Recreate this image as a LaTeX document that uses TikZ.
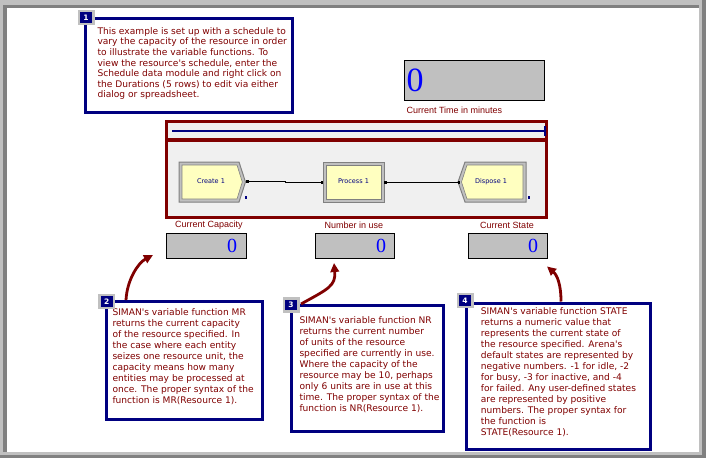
\documentclass[tikz,border=0pt]{standalone}
\usepackage{fontspec}
\usetikzlibrary{arrows.meta}
\newfontfamily\notefont{DejaVu Sans}
\newfontfamily\labfont{Liberation Sans}
\newfontfamily\numfont{Liberation Serif}
\definecolor{darkred}{HTML}{800000}
\definecolor{navy}{HTML}{000080}
\definecolor{silver}{HTML}{C0C0C0}
\definecolor{grayd}{HTML}{808080}
\definecolor{panel}{HTML}{F0F0F0}
\definecolor{modfill}{HTML}{FFFFC0}
\definecolor{numblue}{HTML}{0000FF}
\tikzset{
  notebox/.style={draw=navy, fill=white, line width=3pt, inner sep=0pt, anchor=north west},
  notetext/.style={anchor=north west, inner sep=0pt, align=left, text=darkred,
    font=\notefont\fontsize{9.1}{11}\selectfont},
  badge/.style={fill=navy, draw=silver, line width=2.5pt, text=white, inner sep=0pt,
    minimum width=14.5pt, minimum height=13pt, font=\notefont\bfseries\fontsize{7.5}{8}\selectfont},
  notearrow/.style={draw=darkred, line width=2.8pt, -{Triangle[length=9pt,width=8.5pt]}},
  dispbox/.style={draw=black, fill=silver, line width=1pt, inner sep=0pt, anchor=north west},
  smallnum/.style={anchor=base east, inner sep=0pt, text=numblue, font=\numfont\fontsize{20}{20}\selectfont},
  lab/.style={inner sep=0pt, text=darkred, font=\labfont\fontsize{9}{11}\selectfont},
  modouter/.style={fill=silver, draw=grayd, line width=1pt},
  modinner/.style={fill=modfill, draw=grayd, line width=0.6pt},
  modtext/.style={inner sep=0pt, text=navy, font=\notefont\fontsize{6.5}{7}\selectfont},
  port/.style={fill=black, draw=none},
  conn/.style={draw=black, line width=0.9pt}
}
\begin{document}
\begin{tikzpicture}[x=1pt,y=-1pt]
\useasboundingbox (0,0) rectangle (706,458);
% window frame
\fill[silver] (0,0) rectangle (706,458);
\fill[grayd] (3,5) rectangle (699,452);
\fill[white] (7,8) rectangle (699,452);
\fill[grayd] (702,0) rectangle (706,458);
\fill[grayd] (0,455) rectangle (706,458);

% note 1
\node[notebox, minimum width=207pt, minimum height=94pt] (box1) at (83.5,16.5) {};
\node[notetext, font=\notefont\fontsize{9.1}{10.6}\selectfont] (txt1) at (97.3,27.1) {This example is set up with a schedule to\\vary the capacity of the resource in order\\to illustrate the variable functions. To\\view the resource's schedule, enter the\\Schedule data module and right click on\\the Durations (5 rows) to edit via either\\dialog or spreadsheet.};
\node[badge] (badge1) at (86,17.5) {1};

% time display
\node[dispbox, minimum width=140pt, minimum height=40pt] (timebox) at (404,60) {};
\node[anchor=base west, inner sep=0pt, text=numblue, font=\numfont\fontsize{34}{34}\selectfont] (timeval) at (406.5,91.5) {0};
\node[lab, anchor=base west] (timelab) at (406.3,113.3) {Current Time in minutes};

% model frame
\draw[darkred, line width=3pt, fill=panel] (166.5,121.5) rectangle (546.5,217.5);
\draw[darkred, line width=3.5pt] (166.5,140) -- (546.5,140);
\draw[navy, line width=1.2pt] (172,131) -- (545,131);
\draw[navy, line width=1.5pt] (545,126) -- (545,136);

% modules
\draw[modouter] (179,162) -- (239,162) -- (245.5,182) -- (239,202) -- (179,202) -- cycle;
\draw[modinner] (182,165) -- (237,165) -- (242.3,182) -- (237,199) -- (182,199) -- cycle;
\node[modtext] (create) at (211,181.5) {Create 1};
\draw[modouter] (323,162) rectangle (384,202);
\draw[modinner] (326,165) rectangle (381,199);
\node[modtext] (process) at (353.5,181.5) {Process 1};
\draw[modouter] (465,162) -- (526,162) -- (526,202) -- (465,202) -- (458,182) -- cycle;
\draw[modinner] (467,165) -- (523,165) -- (523,199) -- (467,199) -- (461.5,182) -- cycle;
\node[modtext] (dispose) at (491,181.5) {Dispose 1};
\fill[navy] (244.5,195.5) rectangle (246.5,199);
\fill[navy] (527.5,195.5) rectangle (529.5,199);

% ports and connectors
\coordinate (createOut) at (247,181);
\coordinate (procIn) at (322,182);
\coordinate (procOut) at (385,182);
\coordinate (dispIn) at (459,182);
\draw[conn] (createOut) -- ++(38,0) |- (procIn);
\draw[conn] (procOut) -- (dispIn);
\fill[port] (246,179.5) rectangle (248.5,183);
\fill[port] (320.5,180.5) rectangle (323,184);
\fill[port] (384,180.5) rectangle (386.5,184);
\fill[port] (458,180.5) rectangle (460,184);

% displays
\node[lab] (capLab) at (209,225.5) {Current Capacity};
\node[lab] (useLab) at (354,225) {Number in use};
\node[lab] (stateLab) at (507,225) {Current State};
\node[dispbox, minimum width=80pt, minimum height=25pt] (dispA) at (166,233) {};
\node[dispbox, minimum width=79pt, minimum height=25pt] (dispB) at (315,233) {};
\node[dispbox, minimum width=79pt, minimum height=25pt] (dispC) at (468,233) {};
\node[smallnum] (valA) at (237.2,252.5) {0};
\node[smallnum] (valB) at (386.2,252.5) {0};
\node[smallnum] (valC) at (538.2,252.5) {0};

% arrow tips
\coordinate (tip2) at (153,255);
\coordinate (tip3) at (334,263);
\coordinate (tip4) at (547,266.5);

% note 2
\node[notebox, minimum width=156pt, minimum height=117.5pt] (box2) at (105,300) {};
\draw[notearrow] ([xshift=21pt]box2.north west) .. controls (127,280) and (138,263) .. (tip2);
\node[notetext] (txt2) at (112.3,308.8) {SIMAN's variable function MR\\returns the current capacity\\of the resource specified. In\\the case where each entity\\seizes one resource unit, the\\capacity means how many\\entities may be processed at\\once. The proper syntax of the\\function is MR(Resource 1).};
\node[badge] (badge2) at (106.7,301.3) {2};

% note 3
\node[notebox, minimum width=151.5pt, minimum height=126pt] (box3) at (290,304) {};
\draw[notearrow] ([xshift=11pt]box3.north west) .. controls (328,289) and (336,286) .. (tip3);
\node[notetext] (txt3) at (299.3,316.4) {SIMAN's variable function NR\\returns the current number\\of units of the resource\\specified are currently in use.\\Where the capacity of the\\resource may be 10, perhaps\\only 6 units are in use at this\\time. The proper syntax of the\\function is NR(Resource 1).};
\node[badge] (badge3) at (291,305) {3};

% note 4
\node[notebox, minimum width=184.5pt, minimum height=146pt] (box4) at (464.5,301.5) {};
\draw[notearrow] ([xshift=96.5pt]box4.north west) .. controls (561,284) and (557,275) .. (tip4);
\node[notetext] (txt4) at (480.7,307.4) {SIMAN's variable function STATE\\returns a numeric value that\\represents the current state of\\the resource specified. Arena's\\default states are represented by\\negative numbers. -1 for idle, -2\\for busy, -3 for inactive, and -4\\for failed. Any user-defined states\\are represented by positive\\numbers. The proper syntax for\\the function is\\STATE(Resource 1).};
\node[badge] (badge4) at (465,300.5) {4};
\end{tikzpicture}
\end{document}
